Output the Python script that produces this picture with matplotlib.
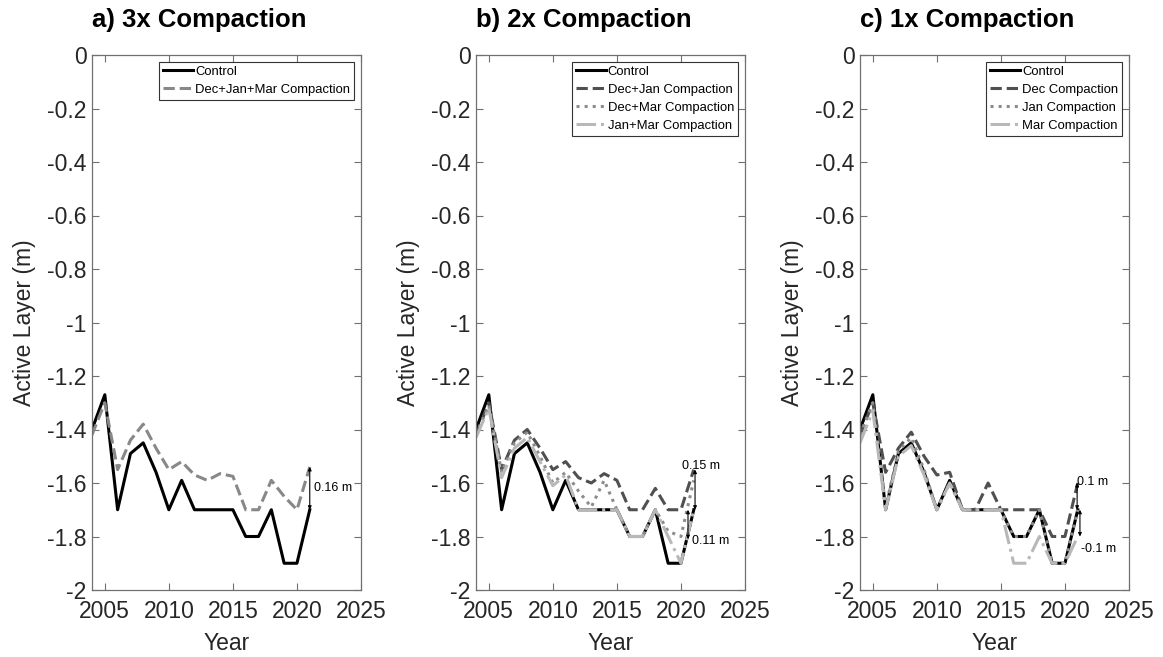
import matplotlib
matplotlib.use("Agg")
import matplotlib.pyplot as plt
from matplotlib.ticker import FixedLocator, FuncFormatter

plt.rcParams['font.family'] = ['Liberation Sans', 'DejaVu Sans']

# ---- data -------------------------------------------------------------
years = list(range(2004, 2022))

control = [-1.40, -1.27, -1.70, -1.49, -1.45, -1.56, -1.70, -1.59, -1.70,
           -1.70, -1.70, -1.70, -1.80, -1.80, -1.70, -1.90, -1.90, -1.70]

# a) three compaction events
dec_jan_mar = [-1.42, -1.30, -1.55, -1.44, -1.38, -1.47, -1.55, -1.52, -1.57,
               -1.59, -1.565, -1.575, -1.70, -1.70, -1.59, -1.65, -1.70, -1.54]

# b) two compaction events
dec_jan = [-1.42, -1.30, -1.55, -1.44, -1.40, -1.47, -1.55, -1.52, -1.58,
           -1.60, -1.565, -1.59, -1.70, -1.70, -1.62, -1.70, -1.70, -1.55]
dec_mar = [-1.42, -1.31, -1.56, -1.45, -1.41, -1.50, -1.60, -1.56, -1.63,
           -1.69, -1.59, -1.70, -1.80, -1.80, -1.70, -1.78, -1.80, -1.59]
jan_mar = [-1.43, -1.32, -1.58, -1.47, -1.43, -1.52, -1.61, -1.57, -1.70,
           -1.70, -1.70, -1.70, -1.80, -1.80, -1.70, -1.80, -1.90, -1.70]

# c) single compaction events
dec_only = [-1.42, -1.30, -1.56, -1.47, -1.41, -1.50, -1.57, -1.56, -1.70,
            -1.70, -1.60, -1.70, -1.70, -1.70, -1.70, -1.80, -1.80, -1.60]
jan_only = [-1.42, -1.30, -1.69, -1.48, -1.43, -1.55, -1.70, -1.60, -1.70,
            -1.70, -1.70, -1.70, -1.80, -1.80, -1.70, -1.90, -1.90, -1.70]
mar_only = [-1.45, -1.33, -1.70, -1.50, -1.46, -1.57, -1.70, -1.60, -1.70,
            -1.70, -1.70, -1.70, -1.90, -1.90, -1.80, -1.90, -1.90, -1.80]

titles = ["a) 3x Compaction", "b) 2x Compaction", "c) 1x Compaction"]
x_ticks = [2005, 2010, 2015, 2020, 2025]
y_ticks = [0, -0.2, -0.4, -0.6, -0.8, -1, -1.2, -1.4, -1.6, -1.8, -2]

# difference annotations: (x, y_start, difference, text_x, text_y, text)
diff_a = [(2021.0, -1.70, 0.16, 2021.3, -1.62, "0.16 m")]
diff_b = [(2021.1, -1.70, 0.15, 2020.1, -1.535, "0.15 m"),
          (2020.55, -1.70, -0.11, 2020.85, -1.815, "0.11 m")]
diff_c = [(2020.95, -1.70, 0.10, 2020.95, -1.595, "0.1 m"),
          (2021.17, -1.70, -0.10, 2021.25, -1.845, "-0.1 m")]

# ---- styles -----------------------------------------------------------
LW = 2.2
DARK = '#505050'
MID = '#8c8c8c'
LIGHT = '#b8b8b8'
GREY_A = '#888888'
SPINE = '#707070'
TXT = '#262626'

W, H = 1163, 657
fig = plt.figure(figsize=(W / 100, H / 100), dpi=100)

lefts = [92, 476, 860]
ax_w, ax_h, ax_bottom = 269, 535, 67

panels = [
    [("Control", control, '-', 'black'),
     ("Dec+Jan+Mar Compaction", dec_jan_mar, '--', GREY_A)],
    [("Control", control, '-', 'black'),
     ("Dec+Jan Compaction", dec_jan, '--', DARK),
     ("Dec+Mar Compaction", dec_mar, ':', MID),
     ("Jan+Mar Compaction", jan_mar, '-.', LIGHT)],
    [("Control", control, '-', 'black'),
     ("Dec Compaction", dec_only, '--', DARK),
     ("Jan Compaction", jan_only, ':', MID),
     ("Mar Compaction", mar_only, '-.', LIGHT)],
]
diffs = [diff_a, diff_b, diff_c]


def fmt(v, pos):
    s = ('%g' % round(v, 2))
    return '0' if s in ('0', '-0') else s


for i in range(3):
    ax = fig.add_axes([lefts[i] / W, ax_bottom / H, ax_w / W, ax_h / H])
    for label, vals, ls, col in panels[i]:
        ax.plot(years, vals, linestyle=ls, color=col, lw=LW, label=label)

    ax.set_xlim(2004, 2025)
    ax.set_ylim(-2, 0)
    ax.xaxis.set_major_locator(FixedLocator(x_ticks))
    ax.yaxis.set_major_locator(FixedLocator(y_ticks))
    ax.xaxis.set_major_formatter(FuncFormatter(lambda v, p: '%d' % v))
    ax.yaxis.set_major_formatter(FuncFormatter(fmt))
    ax.tick_params(direction='in', length=5, width=0.8, color=SPINE,
                   labelcolor=TXT, labelsize=16.5, top=True, right=True, pad=4)
    ax.tick_params(axis='x', pad=7)
    for sp in ax.spines.values():
        sp.set_color(SPINE)
        sp.set_linewidth(0.9)

    ax.set_xlabel("Year", fontsize=16.5, color=TXT, labelpad=7)
    ax.set_ylabel("Active Layer (m)", fontsize=16.5, color=TXT, labelpad=8)
    ax.set_title(titles[i], loc='left', fontsize=18.5, fontweight='bold',
                 color='black', pad=20)

    leg = ax.legend(loc='upper right', bbox_to_anchor=(0.974, 0.987),
                    borderaxespad=0, fontsize=9.4, handlelength=2.3,
                    handletextpad=0.15, labelspacing=0.45, borderpad=0.3,
                    fancybox=False, framealpha=1, edgecolor='#333333')
    leg.get_frame().set_linewidth(0.8)

    for x, y0, d, tx, ty, txt in diffs[i]:
        ax.annotate('', xy=(x, y0 + d), xytext=(x, y0),
                    arrowprops=dict(arrowstyle='<|-|>', color='black', lw=0.8,
                                    mutation_scale=5, shrinkA=0, shrinkB=0))
        ax.text(tx, ty, txt, fontsize=9, color='black', ha='left', va='center')

fig.savefig("out.png", dpi=100)
